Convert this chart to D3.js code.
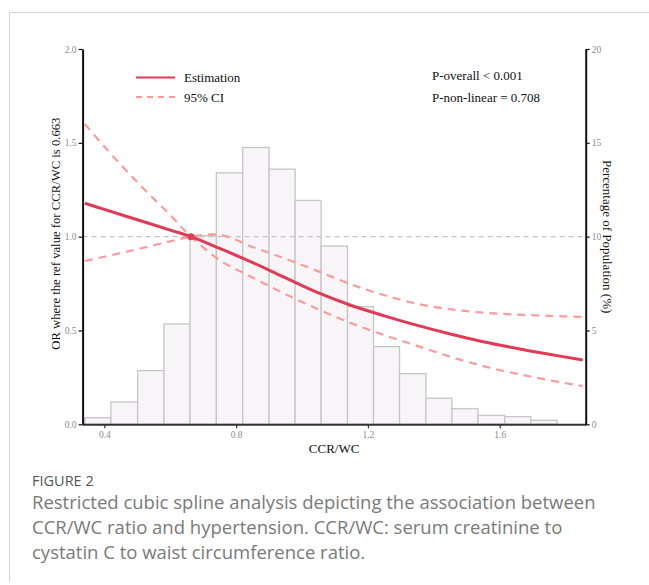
<!DOCTYPE html>
<html>
<head>
<meta charset="utf-8">
<script src="https://cdn.jsdelivr.net/npm/d3@7"></script>
<style>
  html, body { margin: 0; padding: 0; background: #fff; }
  svg { display: block; }
</style>
</head>
<body>
<svg id="chart" width="649" height="585"></svg>
<script>
// ---- data ----
const binEdges = [0.341, 0.420, 0.501, 0.581, 0.660, 0.740, 0.820, 0.900, 0.979, 1.058, 1.138, 1.217, 1.296, 1.376, 1.455, 1.534, 1.615, 1.694, 1.774];
const binPercent = [0.35, 1.19, 2.86, 5.35, 10.05, 13.4, 14.75, 13.6, 11.93, 9.5, 6.27, 4.14, 2.70, 1.39, 0.83, 0.48, 0.41, 0.21];

const curveX =      [0.341, 0.40, 0.50, 0.60, 0.663, 0.75, 0.85, 0.95, 1.05, 1.15, 1.25, 1.35, 1.45, 1.55, 1.65, 1.75, 1.852];
const estimation =  [1.178, 1.145, 1.09, 1.035, 1.0, 0.937, 0.862, 0.78, 0.70, 0.633, 0.578, 0.527, 0.481, 0.44, 0.405, 0.373, 0.343];
// CI drawn as two lines crossing at the reference value
const ciLineA =     [1.60, 1.48, 1.29, 1.115, 1.0, 0.875, 0.782, 0.693, 0.612, 0.538, 0.475, 0.418, 0.36, 0.31, 0.27, 0.235, 0.204];
const ciLineB =     [0.87, 0.893, 0.933, 0.975, 1.0, 1.01, 0.945, 0.882, 0.815, 0.745, 0.688, 0.642, 0.613, 0.595, 0.585, 0.578, 0.572];

const refValue = 0.663;
const xTicks = [0.4, 0.8, 1.2, 1.6];
const yLeftTicks = [0.0, 0.5, 1.0, 1.5, 2.0];
const yRightTicks = [0, 5, 10, 15, 20];
const pTexts = ["P-overall < 0.001", "P-non-linear = 0.708"];
const legendLabels = ["Estimation", "95% CI"];
const captionTitle = "FIGURE 2";
const captionLines = [
  "Restricted cubic spline analysis depicting the association between",
  "CCR/WC ratio and hypertension. CCR/WC: serum creatinine to",
  "cystatin C to waist circumference ratio."
];

// ---- layout ----
const svg = d3.select("#chart");
const L = 82.6, R = 585.7, T = 49, B = 424.3;
const x = d3.scaleLinear().domain([0.334, 1.861]).range([L, R]);
const yL = d3.scaleLinear().domain([0, 2]).range([B, T]);
const yR = d3.scaleLinear().domain([0, 20]).range([B, T]);

const serif = "'Liberation Serif', 'Times New Roman', serif";
const sans = "'Open Sans', 'Noto Sans', sans-serif";
const red = "#e03a56";
const pink = "#ff9a9a";

svg.append("rect").attr("width", 649).attr("height", 585).attr("fill", "#fff");

// frame
svg.append("line").attr("x1", 9).attr("x2", 649).attr("y1", 12.5).attr("y2", 12.5)
  .attr("stroke", "#d4d4d4").attr("stroke-width", 1);
svg.append("line").attr("x1", 9.5).attr("x2", 9.5).attr("y1", 12.5).attr("y2", 582)
  .attr("stroke", "#d4d4d4").attr("stroke-width", 1);

// histogram
const bins = binPercent.map((p, i) => ({x0: binEdges[i], x1: binEdges[i + 1], p}));
svg.append("g").selectAll("rect").data(bins).join("rect")
  .attr("x", d => x(d.x0))
  .attr("width", d => x(d.x1) - x(d.x0))
  .attr("y", d => yR(d.p))
  .attr("height", d => yR(0) - yR(d.p))
  .attr("fill", "#f7f5f7")
  .attr("stroke", "#c6c6c6")
  .attr("stroke-width", 1.3);

// reference line at OR = 1
svg.append("line").attr("x1", L).attr("x2", R).attr("y1", yL(1)).attr("y2", yL(1))
  .attr("stroke", "#c4c4c4").attr("stroke-width", 1.1).attr("stroke-dasharray", "5,4");

// CI lines
const line = d3.line().x(d => x(d[0])).y(d => yL(d[1])).curve(d3.curveCatmullRom.alpha(0.5));
[ciLineA, ciLineB].forEach(arr => {
  svg.append("path").datum(curveX.map((v, i) => [v, arr[i]]))
    .attr("d", line).attr("fill", "none")
    .attr("stroke", pink).attr("stroke-width", 2.2).attr("stroke-dasharray", "8,6");
});
// estimation
svg.append("path").datum(curveX.map((v, i) => [v, estimation[i]]))
  .attr("d", line).attr("fill", "none")
  .attr("stroke", red).attr("stroke-width", 3);
svg.append("circle").attr("cx", x(refValue)).attr("cy", yL(1)).attr("r", 3.5).attr("fill", red);

// axes
function styleAxis(g, color) {
  g.selectAll("path.domain").attr("stroke", color).attr("stroke-width", 2);
  g.selectAll(".tick line").attr("stroke", color).attr("stroke-width", 1.2);
  g.selectAll(".tick text").attr("fill", "#8a8a8a").attr("font-family", serif).attr("font-size", 9.5);
}
const gx = svg.append("g").attr("transform", `translate(0,${B})`)
  .call(d3.axisBottom(x).tickValues(xTicks).tickFormat(d3.format(".1f")).tickSize(4).tickSizeOuter(0).tickPadding(3));
styleAxis(gx, "#333");
const gl = svg.append("g").attr("transform", `translate(${L},0)`)
  .call(d3.axisLeft(yL).tickValues(yLeftTicks).tickFormat(d3.format(".1f")).tickSize(4).tickSizeOuter(0).tickPadding(2));
styleAxis(gl, "#111");
const gr = svg.append("g").attr("transform", `translate(${R},0)`)
  .call(d3.axisRight(yR).tickValues(yRightTicks).tickFormat(d3.format("d")).tickSize(4).tickSizeOuter(0).tickPadding(2));
styleAxis(gr, "#111");

// axis titles
svg.append("text").attr("x", (L + R) / 2).attr("y", 453).attr("text-anchor", "middle")
  .attr("font-family", serif).attr("font-size", 13).attr("fill", "#111").text("CCR/WC");
svg.append("text").attr("transform", `translate(60,${(T + B) / 2 - 3}) rotate(-90)`)
  .attr("text-anchor", "middle").attr("font-family", serif).attr("font-size", 12.7).attr("fill", "#111")
  .text("OR where the ref value for CCR/WC is 0.663");
svg.append("text").attr("transform", `translate(603,${(T + B) / 2}) rotate(90)`)
  .attr("text-anchor", "middle").attr("font-family", serif).attr("font-size", 13).attr("fill", "#111")
  .text("Percentage of Population (%)");

// legend
svg.append("line").attr("x1", 136).attr("x2", 175).attr("y1", 77.5).attr("y2", 77.5)
  .attr("stroke", red).attr("stroke-width", 2);
svg.append("line").attr("x1", 136).attr("x2", 175).attr("y1", 97).attr("y2", 97)
  .attr("stroke", pink).attr("stroke-width", 2).attr("stroke-dasharray", "6,5");
legendLabels.forEach((t, i) => {
  svg.append("text").attr("x", 184).attr("y", 82 + i * 19.5)
    .attr("font-family", serif).attr("font-size", 13).attr("fill", "#111").text(t);
});
pTexts.forEach((t, i) => {
  svg.append("text").attr("x", 432).attr("y", 80 + i * 21.5)
    .attr("font-family", serif).attr("font-size", 13).attr("fill", "#111").text(t);
});

// caption
svg.append("text").attr("x", 32).attr("y", 486).attr("font-family", sans).attr("font-size", 14.5)
  .attr("fill", "#555").text(captionTitle);
captionLines.forEach((t, i) => {
  svg.append("text").attr("x", 32).attr("y", 509 + i * 25).attr("font-family", sans)
    .attr("font-size", 18.5).attr("fill", "#7a7a7a").text(t);
});
</script>
</body>
</html>
